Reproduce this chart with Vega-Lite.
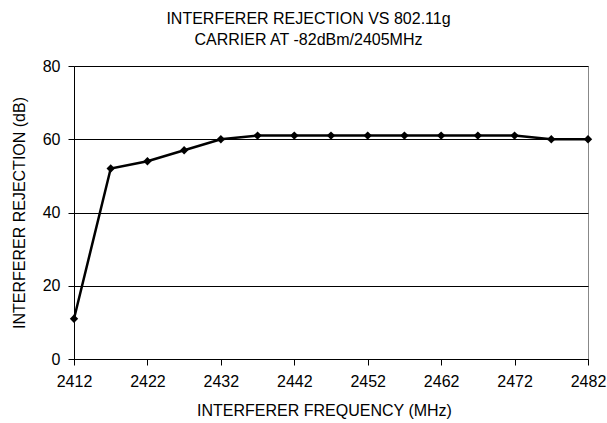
{
  "$schema": "https://vega.github.io/schema/vega-lite/v6.json",
  "width": 514,
  "height": 293,
  "autosize": "none",
  "padding": {"left": 74, "top": 66, "right": 19, "bottom": 64},
  "background": "white",
  "config": {
    "font": "Liberation Sans",
    "view": {"stroke": "#888888", "strokeWidth": 1}
  },
  "title": {
    "text": ["INTERFERER REJECTION VS 802.11g", "CARRIER AT -82dBm/2405MHz"],
    "fontSize": 16,
    "fontWeight": "normal",
    "color": "black",
    "anchor": "middle",
    "frame": "bounds",
    "offset": 10,
    "lineHeight": 21
  },
  "data": {
    "values": [
      {"f": 2412, "r": 11},
      {"f": 2417, "r": 52},
      {"f": 2422, "r": 54},
      {"f": 2427, "r": 57},
      {"f": 2432, "r": 60},
      {"f": 2437, "r": 61},
      {"f": 2442, "r": 61},
      {"f": 2447, "r": 61},
      {"f": 2452, "r": 61},
      {"f": 2457, "r": 61},
      {"f": 2462, "r": 61},
      {"f": 2467, "r": 61},
      {"f": 2472, "r": 61},
      {"f": 2477, "r": 60},
      {"f": 2482, "r": 60}
    ]
  },
  "encoding": {
    "x": {
      "field": "f",
      "type": "quantitative",
      "scale": {"domain": [2412, 2482], "nice": false, "zero": false},
      "axis": {
        "title": "INTERFERER FREQUENCY (MHz)",
        "values": [2412, 2422, 2432, 2442, 2452, 2462, 2472, 2482],
        "format": "d",
        "grid": false,
        "labelFlush": false,
        "labelOverlap": false,
        "domainColor": "black",
        "tickColor": "black",
        "tickSize": 6,
        "labelFontSize": 16,
        "labelColor": "black",
        "labelPadding": 8,
        "titleFontSize": 16,
        "titleFontWeight": "normal",
        "titleColor": "black",
        "titlePadding": 13,
        "titleX": 250
      }
    },
    "y": {
      "field": "r",
      "type": "quantitative",
      "scale": {"domain": [0, 80], "nice": false},
      "axis": {
        "title": "INTERFERER REJECTION (dB)",
        "values": [0, 20, 40, 60, 80],
        "grid": true,
        "gridColor": "black",
        "gridOpacity": 1,
        "domainColor": "black",
        "tickColor": "black",
        "tickSize": 6,
        "labelFlush": false,
        "labelFontSize": 16,
        "labelColor": "black",
        "labelPadding": 8,
        "titleFontSize": 16,
        "titleFontWeight": "normal",
        "titleColor": "black",
        "titlePadding": 15
      }
    }
  },
  "layer": [
    {"mark": {"type": "line", "color": "black", "strokeWidth": 2.5}},
    {"mark": {"type": "point", "shape": "diamond", "filled": true, "color": "black", "size": 70, "opacity": 1}}
  ]
}
